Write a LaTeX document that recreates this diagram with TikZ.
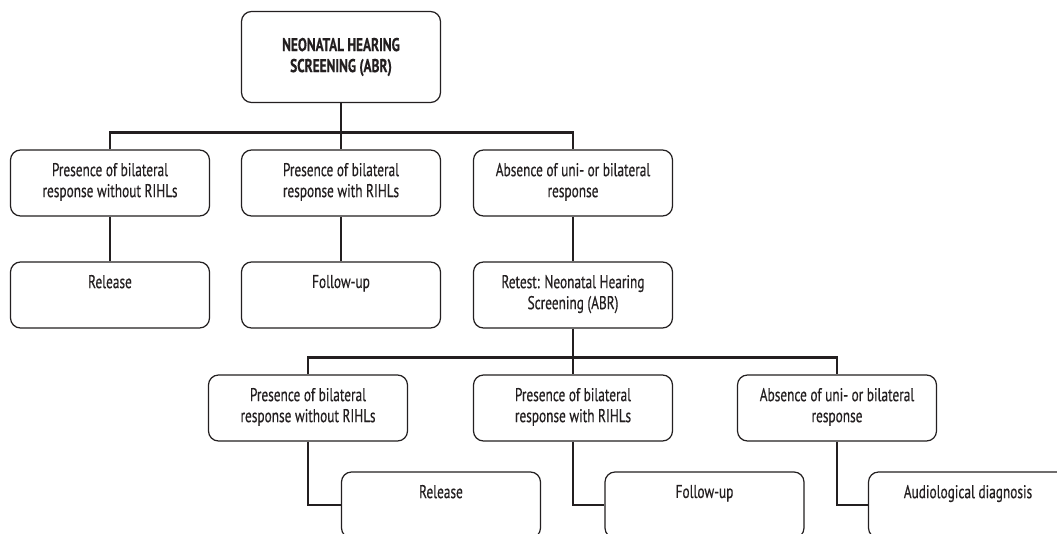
\documentclass[tikz,border=0pt]{standalone}
\usepackage{fontspec}
\setmainfont[FakeStretch=0.72,FakeBold=0.4]{PT Sans}
\usetikzlibrary{positioning}

\definecolor{ink}{HTML}{231F20}
\newcommand{\boxtext}[1]{\parbox[c][40pt][t]{190pt}{\centering #1}}

\tikzset{
  box/.style={draw=ink, line width=1.2pt, rounded corners=10pt, inner sep=0pt,
    minimum width=199pt, minimum height=66pt, text=ink,
    font=\fontsize{18.5}{21}\selectfont},
  topbox/.style={box, minimum height=91pt, align=center, font=\fontsize{18.5}{21}\selectfont\bfseries},
  link/.style={draw=ink, line width=2.6pt},
}

\begin{document}
\begin{tikzpicture}[x=1pt,y=-1pt]
  \clip (0,0) rectangle (1057,533);
  \fill[white] (0,0) rectangle (1057,533);

  % first screening
  \node[topbox] (top) at (341,57) {NEONATAL HEARING\\SCREENING (ABR)};

  \node[box] (a1) at (110,183) {\boxtext{Presence of bilateral\\response without RIHLs}};
  \node[box] (a2) at (341,183) {\boxtext{Presence of bilateral\\response with RIHLs}};
  \node[box] (a3) at (573,183) {\boxtext{Absence of uni- or bilateral\\response}};

  \node[box] (b1) at (110,295) {\boxtext{Release}};
  \node[box] (b2) at (341,295) {\boxtext{Follow-up}};
  \node[box] (b3) at (573,295) {\boxtext{Retest: Neonatal Hearing\\Screening (ABR)}};

  % retest
  \node[box] (c1) at (308,408) {\boxtext{Presence of bilateral\\response without RIHLs}};
  \node[box] (c2) at (573,408) {\boxtext{Presence of bilateral\\response with RIHLs}};
  \node[box] (c3) at (837,408) {\boxtext{Absence of uni- or bilateral\\response}};

  \node[box] (d1) at (441,505) {\boxtext{Release}};
  \node[box] (d2) at (704.5,505) {\boxtext{Follow-up}};
  \node[box] (d3) at (968,505) {\boxtext{Audiological diagnosis}};

  % connectors
  \draw[link] (top.south) -- (a2.north);
  \draw[link] (a1.north) -- ++(0,-17) -| (a3.north);
  \foreach \i in {1,2,3}
    \draw[link] (a\i.south) -- (b\i.north);
  \draw[link] (b3.south) -- (c2.north);
  \draw[link] (c1.north) -- ++(0,-17) -| (c3.north);
  \foreach \i in {1,2,3}
    \draw[link] (c\i.south) |- (d\i.west);
\end{tikzpicture}
\end{document}
